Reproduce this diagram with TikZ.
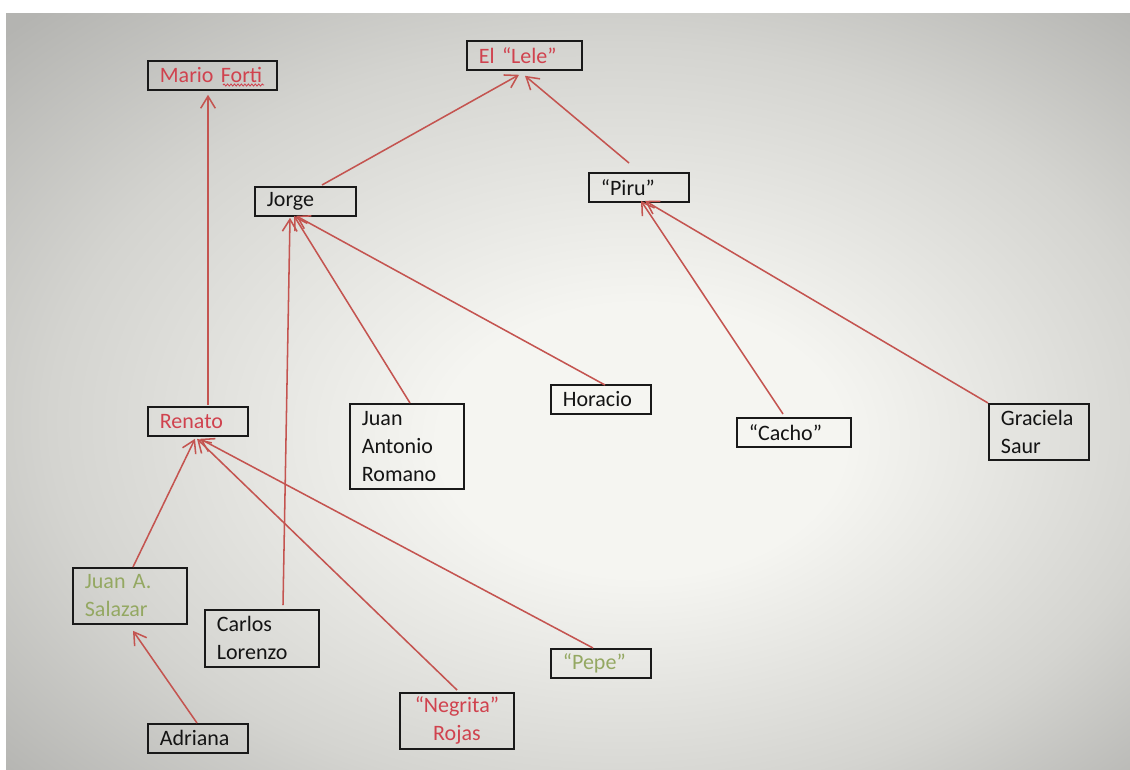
\documentclass[tikz,border=0pt]{standalone}
\usepackage{fontspec}
\setmainfont{Carlito}
\usetikzlibrary{arrows.meta,decorations.pathmorphing}
\definecolor{bgin}{RGB}{245,245,241}
\definecolor{bgmid}{RGB}{212,212,208}
\definecolor{bgout}{RGB}{180,180,177}
\definecolor{linkred}{RGB}{196,84,80}
\definecolor{txtred}{RGB}{208,66,78}
\definecolor{txtgreen}{RGB}{148,168,98}
\definecolor{boxline}{RGB}{25,25,25}
\pgfdeclareradialshading{vign}{\pgfpoint{4bp}{-4bp}}{color(0bp)=(bgin); color(9bp)=(bgin); color(25bp)=(bgmid); color(36bp)=(bgout); color(50bp)=(bgout)}
\begin{document}
\begin{tikzpicture}[x=0.75pt,y=-0.75pt,
  box/.style={draw=boxline, line width=1.35pt, anchor=north west, inner xsep=9pt, inner ysep=0pt,
    align=left, font=\fontsize{16.5pt}{21pt}\selectfont, text=black!92},
  w100/.style={text width=57pt},
  w114/.style={text width=67.5pt},
  h29/.style={minimum height=21.75pt},
  h56/.style={minimum height=42pt},
  link/.style={draw=linkred, line width=1.15pt, -{Straight Barb[length=9pt,width=11pt]}}]
\useasboundingbox (0,0) rectangle (1130,769);
\fill[white] (0,0) rectangle (1130,769);
\shade[shading=vign] (6,13) rectangle (1130,769);

% nodes
\node[box, h29, text width=78.75pt, text=txtred] (mario) at (147,60) {Mario Forti};
\node[box, h29, text width=68.25pt, text=txtred] (lele) at (466,40) {El “Lele”};
\node[box, h29, text width=57.75pt] (jorge) at (254,186) {Jorge};
\node[box, h29, w100] (piru) at (588,172) {“Piru”};
\node[box, h29, w100, text=txtred] (renato) at (147,406) {Renato};
\node[box, w114, minimum height=63.75pt] (jar) at (349,403) {Juan\\Antonio\\Romano};
\node[box, h29, w100] (horacio) at (550,384) {Horacio};
\node[box, h29, w114] (cacho) at (736,417) {“Cacho”};
\node[box, h56, w100] (graciela) at (988,403) {Graciela\\Saur};
\node[box, h56, w114, text=txtgreen] (salazar) at (72,567) {Juan A.\\Salazar};
\node[box, w114, minimum height=42.75pt] (carlos) at (204,609) {Carlos\\Lorenzo};
\node[box, h29, w100, text=txtgreen] (pepe) at (550,648) {“Pepe”};
\node[box, h56, w114, align=center, text=txtred] (negrita) at (399,692) {“Negrita”\\Rojas};
\node[box, h29, w100] (adriana) at (147,723) {Adriana};

% spell-check squiggle under "Forti"
\draw[txtred, line width=0.6pt, decorate, decoration={snake, amplitude=0.8pt, segment length=2.6pt}]
  ([shift={(76,25)}]mario.north west) -- ([shift={(117,25)}]mario.north west);

% connectors
\draw[link] ([shift={(61,-1)}]renato.north west) -- ([shift={(61,4)}]mario.south west);
\draw[link] ([shift={(68,-1)}]jorge.north west) -- ([shift={(53,4)}]lele.south west);
\draw[link] ([shift={(41,-9)}]piru.north west) -- ([shift={(59,5)}]lele.south west);
\draw[link] ([shift={(61,0)}]jar.north west) -- ([shift={(40,-1)}]jorge.south west);
\draw[link] ([shift={(55,1)}]horacio.north west) -- ([shift={(42,-1)}]jorge.south west);
\draw[link] ([shift={(79,-4)}]carlos.north west) -- ([shift={(36,1)}]jorge.south west);
\draw[link] ([shift={(47,-3)}]cacho.north west) -- ([shift={(53,-2)}]piru.south west);
\draw[link] ([shift={(0,0)}]graciela.north west) -- ([shift={(57,-2)}]piru.south west);
\draw[link] ([shift={(61,0)}]salazar.north west) -- ([shift={(48,2)}]renato.south west);
\draw[link] ([shift={(58,-2)}]negrita.north west) -- ([shift={(50,2)}]renato.south west);
\draw[link] ([shift={(43,0)}]pepe.north west) -- ([shift={(53,2)}]renato.south west);
\draw[link] ([shift={(50,0)}]adriana.north west) -- ([shift={(61,6)}]salazar.south west);
\end{tikzpicture}
\end{document}
